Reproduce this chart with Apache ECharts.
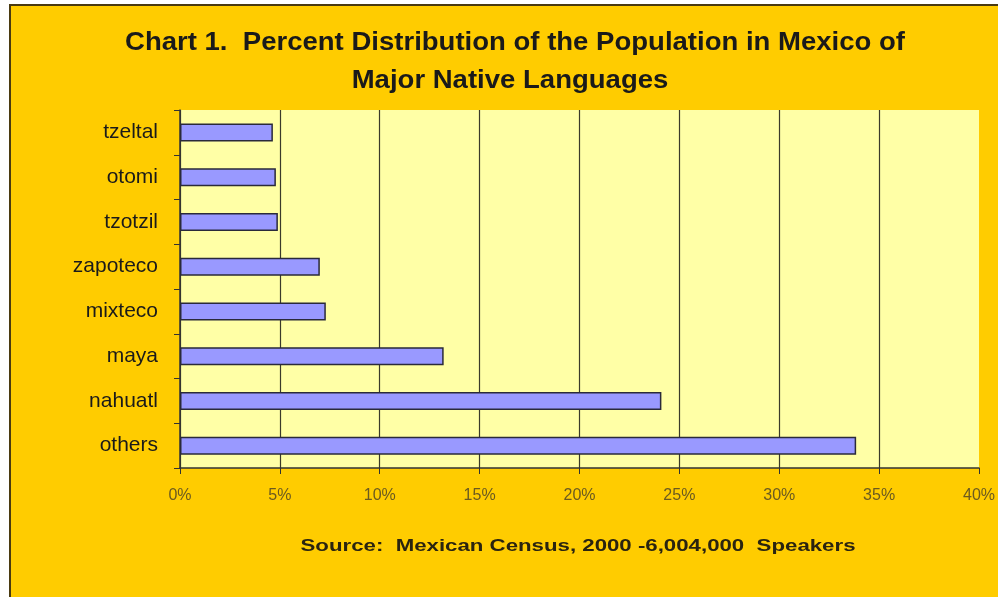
<!DOCTYPE html>
<html>
<head>
<meta charset="utf-8">
<script src="https://cdn.jsdelivr.net/npm/echarts@6/dist/echarts.min.js"></script>
<style>
html,body{margin:0;padding:0;background:#fff;}
#c{width:998px;height:597px;}
</style>
</head>
<body>
<div id="c"></div>
<script>
const titleLines = ["Chart 1.  Percent Distribution of the Population in Mexico of", "Major Native Languages"];
const sourceText = "Source:  Mexican Census, 2000 -6,004,000  Speakers";
const languages = ["tzeltal", "otomi", "tzotzil", "zapoteco", "mixteco", "maya", "nahuatl", "others"];
const percents = [4.65, 4.8, 4.9, 7.0, 7.3, 13.2, 24.1, 33.85];
const xMin = 0, xMax = 40, xStep = 5;

const chart = echarts.init(document.getElementById('c'), null, {renderer: 'canvas'});

function fitScale(text, font, target) {
  const cv = document.createElement('canvas').getContext('2d');
  cv.font = font;
  return target / cv.measureText(text).width;
}
const tFont = 'bold 26px "Liberation Sans", Arial, sans-serif';
const s1 = fitScale(titleLines[0], tFont, 780);
const sFont = 'bold 17px "Liberation Sans", Arial, sans-serif';
const s3 = fitScale(sourceText, sFont, 555);

chart.setOption({
  animation: false,
  backgroundColor: '#ffffff',
  graphic: [
    {type: 'rect', silent: true, z: -10, shape: {x: 10, y: 5, width: 998, height: 600},
     style: {fill: '#FFCC00', stroke: '#4a3a10', lineWidth: 2}},
    {type: 'text', x: 515, y: 43, scaleX: s1, originX: 0, originY: 0,
     style: {text: titleLines[0], font: tFont, fill: '#1a1a1a', align: 'center', verticalAlign: 'middle'}},
    {type: 'text', x: 510, y: 81, scaleX: s1, originX: 0, originY: 0,
     style: {text: titleLines[1], font: tFont, fill: '#1a1a1a', align: 'center', verticalAlign: 'middle'}},
    {type: 'text', x: 578, y: 546, scaleX: s3, originX: 0, originY: 0,
     style: {text: sourceText, font: sFont, fill: '#2a2410', align: 'center', verticalAlign: 'middle'}}
  ],
  grid: {left: 180, right: 18, top: 110, bottom: 129, show: true, backgroundColor: '#FFFFA6', borderWidth: 0},
  xAxis: {
    type: 'value', min: xMin, max: xMax, interval: xStep,
    axisLine: {show: true, lineStyle: {color: '#333', width: 1.5}},
    axisTick: {show: true, length: 6, lineStyle: {color: '#333'}},
    splitLine: {show: true, showMaxLine: false, lineStyle: {color: '#3a3a2a', width: 1.2}},
    axisLabel: {formatter: '{value}%', color: '#6b5a20', fontSize: 16, margin: 20,
      fontFamily: '"Liberation Sans", Arial, sans-serif'}
  },
  yAxis: {
    type: 'category', data: languages, inverse: true,
    axisLine: {show: true, lineStyle: {color: '#333', width: 1.5}},
    axisTick: {show: true, length: 6, lineStyle: {color: '#333'}},
    axisLabel: {color: '#1a1a1a', fontSize: 21, margin: 22,
      fontFamily: '"Liberation Sans", Arial, sans-serif'}
  },
  series: [{
    type: 'bar', data: percents, barWidth: 18,
    itemStyle: {color: '#9999FF', borderColor: '#2a2a3a', borderWidth: 1.5}
  }]
});
</script>
</body>
</html>
